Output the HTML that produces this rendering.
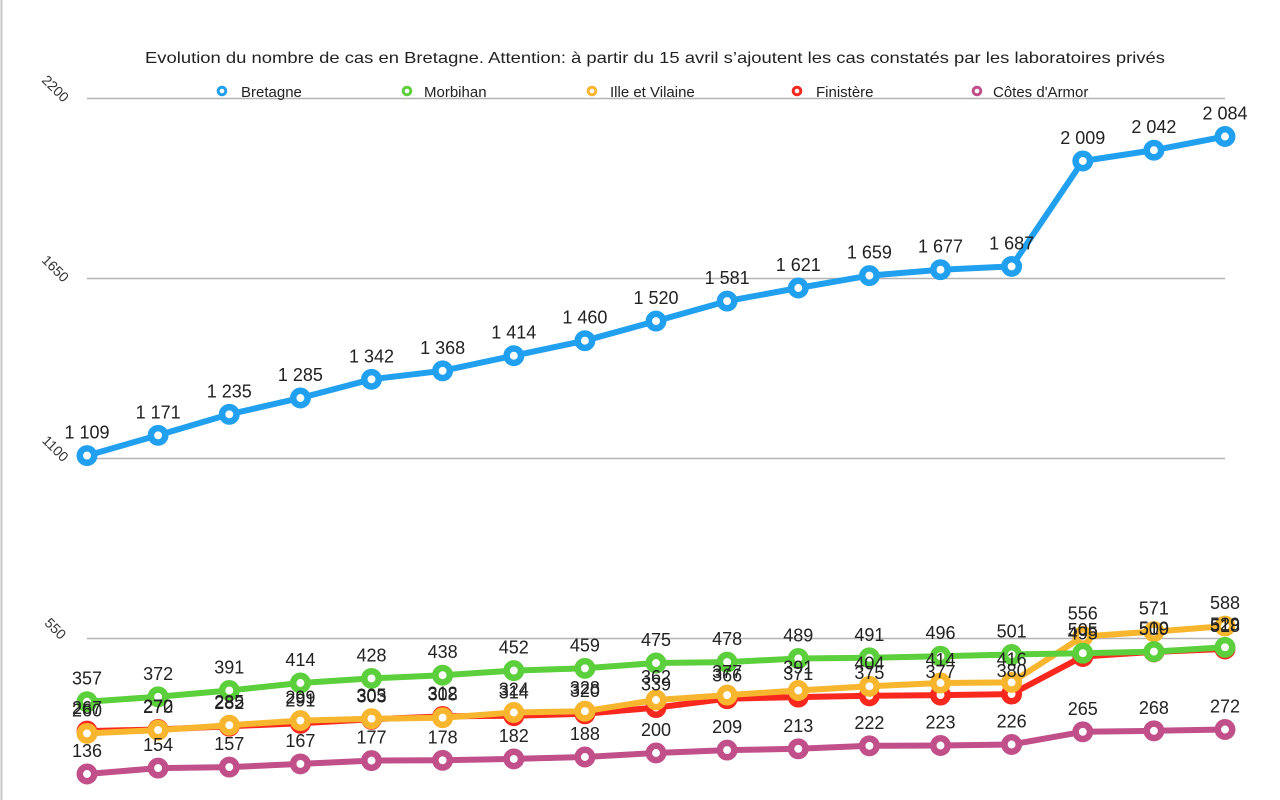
<!DOCTYPE html>
<html><head><meta charset="utf-8"><style>
html,body{margin:0;padding:0;background:#fff;}
svg{display:block;font-family:"Liberation Sans",Arial,sans-serif;}
.lbl{font-size:18px;fill:#222;text-anchor:middle;}
.ax{font-size:14px;fill:#333;text-anchor:middle;}
.lg{font-size:15px;fill:#222;}
.mk circle{r:7.2px;}
</style></head><body>
<svg width="1280" height="800" viewBox="0 0 1280 800" xmlns="http://www.w3.org/2000/svg">
<rect width="1280" height="800" fill="#fff"/>
<line x1="1.5" y1="0" x2="1.5" y2="800" stroke="#c8c8c8" stroke-width="2"/>
<text x="655" y="63" font-size="16" fill="#222" text-anchor="middle" textLength="1020" lengthAdjust="spacingAndGlyphs">Evolution du nombre de cas en Bretagne. Attention: à partir du 15 avril s’ajoutent les cas constatés par les laboratoires privés</text>

<!-- grid -->
<g stroke="#b4b4b4" stroke-width="1.5">
<line x1="87" y1="98.5" x2="1225" y2="98.5"/>
<line x1="87" y1="278.5" x2="1225" y2="278.5"/>
<line x1="87" y1="458.5" x2="1225" y2="458.5"/>
<line x1="87" y1="638.5" x2="1225" y2="638.5"/>
</g>
<text class="ax" transform="translate(52,92) rotate(45)">2200</text>
<text class="ax" transform="translate(52,272) rotate(45)">1650</text>
<text class="ax" transform="translate(52,452) rotate(45)">1100</text>
<text class="ax" transform="translate(52,632) rotate(45)">550</text>

<!-- legend -->
<g stroke-width="3" fill="#fff">
<circle cx="222" cy="91" r="3.8" stroke="#22a0f0"/>
<circle cx="407" cy="91" r="3.8" stroke="#5ccf3c"/>
<circle cx="592" cy="91" r="3.8" stroke="#f8b52e"/>
<circle cx="797" cy="91" r="3.8" stroke="#f8281e"/>
<circle cx="977" cy="91" r="3.8" stroke="#c04f8a"/>
</g>
<text class="lg" x="241" y="97">Bretagne</text>
<text class="lg" x="424" y="97">Morbihan</text>
<text class="lg" x="610" y="97">Ille et Vilaine</text>
<text class="lg" x="816" y="97">Finistère</text>
<text class="lg" x="993" y="97">Côtes d'Armor</text>

<!-- Côtes d'Armor -->
<g stroke="#c04f8a" fill="#fff">
<polyline fill="none" stroke-width="6" stroke-linejoin="round" points="87,774 158.1,768.1 229.3,767.1 300.4,763.9 371.5,760.6 442.6,760.3 513.8,758.9 584.9,757 656,753 727.1,750.1 798.3,748.8 869.4,745.8 940.5,745.5 1011.6,744.5 1082.8,731.8 1153.9,730.8 1225,729.5"/>
<g stroke-width="6.5">
<circle cx="87" cy="774" r="7.2"/><circle cx="158.1" cy="768.1" r="7.2"/><circle cx="229.3" cy="767.1" r="7.2"/><circle cx="300.4" cy="763.9" r="7.2"/><circle cx="371.5" cy="760.6" r="7.2"/><circle cx="442.6" cy="760.3" r="7.2"/><circle cx="513.8" cy="758.9" r="7.2"/><circle cx="584.9" cy="757" r="7.2"/><circle cx="656" cy="753" r="7.2"/><circle cx="727.1" cy="750.1" r="7.2"/><circle cx="798.3" cy="748.8" r="7.2"/><circle cx="869.4" cy="745.8" r="7.2"/><circle cx="940.5" cy="745.5" r="7.2"/><circle cx="1011.6" cy="744.5" r="7.2"/><circle cx="1082.8" cy="731.8" r="7.2"/><circle cx="1153.9" cy="730.8" r="7.2"/><circle cx="1225" cy="729.5" r="7.2"/>
</g></g>

<!-- Finistère -->
<g stroke="#f8281e" fill="#fff">
<polyline fill="none" stroke-width="6" stroke-linejoin="round" points="87,731.1 158.1,729.5 229.3,726.2 300.4,723.3 371.5,719.3 442.6,716.4 513.8,715.7 584.9,713.8 656,707.6 727.1,698.7 798.3,697.1 869.4,695.8 940.5,695.1 1011.6,694.1 1082.8,656.5 1153.9,651.9 1225,649"/>
<g stroke-width="6.5">
<circle cx="87" cy="731.1" r="7.2"/><circle cx="158.1" cy="729.5" r="7.2"/><circle cx="229.3" cy="726.2" r="7.2"/><circle cx="300.4" cy="723.3" r="7.2"/><circle cx="371.5" cy="719.3" r="7.2"/><circle cx="442.6" cy="716.4" r="7.2"/><circle cx="513.8" cy="715.7" r="7.2"/><circle cx="584.9" cy="713.8" r="7.2"/><circle cx="656" cy="707.6" r="7.2"/><circle cx="727.1" cy="698.7" r="7.2"/><circle cx="798.3" cy="697.1" r="7.2"/><circle cx="869.4" cy="695.8" r="7.2"/><circle cx="940.5" cy="695.1" r="7.2"/><circle cx="1011.6" cy="694.1" r="7.2"/><circle cx="1082.8" cy="656.5" r="7.2"/><circle cx="1153.9" cy="651.9" r="7.2"/><circle cx="1225" cy="649" r="7.2"/>
</g></g>

<!-- Ille et Vilaine -->
<g stroke="#f8b52e" fill="#fff">
<polyline fill="none" stroke-width="6" stroke-linejoin="round" points="87,733.4 158.1,730.1 229.3,725.2 300.4,720.6 371.5,718.7 442.6,717.7 513.8,712.5 584.9,711.2 656,700 727.1,695.1 798.3,690.5 869.4,686.3 940.5,683 1011.6,682.4 1082.8,636.5 1153.9,631.6 1225,626.1"/>
<g stroke-width="6.5">
<circle cx="87" cy="733.4" r="7.2"/><circle cx="158.1" cy="730.1" r="7.2"/><circle cx="229.3" cy="725.2" r="7.2"/><circle cx="300.4" cy="720.6" r="7.2"/><circle cx="371.5" cy="718.7" r="7.2"/><circle cx="442.6" cy="717.7" r="7.2"/><circle cx="513.8" cy="712.5" r="7.2"/><circle cx="584.9" cy="711.2" r="7.2"/><circle cx="656" cy="700" r="7.2"/><circle cx="727.1" cy="695.1" r="7.2"/><circle cx="798.3" cy="690.5" r="7.2"/><circle cx="869.4" cy="686.3" r="7.2"/><circle cx="940.5" cy="683" r="7.2"/><circle cx="1011.6" cy="682.4" r="7.2"/><circle cx="1082.8" cy="636.5" r="7.2"/><circle cx="1153.9" cy="631.6" r="7.2"/><circle cx="1225" cy="626.1" r="7.2"/>
</g></g>

<!-- Morbihan -->
<g stroke="#5ccf3c" fill="#fff">
<polyline fill="none" stroke-width="6" stroke-linejoin="round" points="87,701.7 158.1,696.8 229.3,690.5 300.4,683 371.5,678.4 442.6,675.2 513.8,670.6 584.9,668.3 656,663 727.1,662.1 798.3,658.5 869.4,657.8 940.5,656.2 1011.6,654.5 1082.8,653.2 1153.9,651.6 1225,647.3"/>
<g stroke-width="6.5">
<circle cx="87" cy="701.7" r="7.2"/><circle cx="158.1" cy="696.8" r="7.2"/><circle cx="229.3" cy="690.5" r="7.2"/><circle cx="300.4" cy="683" r="7.2"/><circle cx="371.5" cy="678.4" r="7.2"/><circle cx="442.6" cy="675.2" r="7.2"/><circle cx="513.8" cy="670.6" r="7.2"/><circle cx="584.9" cy="668.3" r="7.2"/><circle cx="656" cy="663" r="7.2"/><circle cx="727.1" cy="662.1" r="7.2"/><circle cx="798.3" cy="658.5" r="7.2"/><circle cx="869.4" cy="657.8" r="7.2"/><circle cx="940.5" cy="656.2" r="7.2"/><circle cx="1011.6" cy="654.5" r="7.2"/><circle cx="1082.8" cy="653.2" r="7.2"/><circle cx="1153.9" cy="651.6" r="7.2"/><circle cx="1225" cy="647.3" r="7.2"/>
</g></g>

<!-- Bretagne -->
<g stroke="#22a0f0" fill="#fff">
<polyline fill="none" stroke-width="6" stroke-linejoin="round" points="87,455.6 158.1,435.3 229.3,414.3 300.4,398 371.5,379.3 442.6,370.8 513.8,355.7 584.9,340.7 656,321.1 727.1,301.1 798.3,288 869.4,275.6 940.5,269.7 1011.6,266.4 1082.8,161 1153.9,150.2 1225,136.5"/>
<g stroke-width="6.5">
<circle cx="87" cy="455.6" r="7.2"/><circle cx="158.1" cy="435.3" r="7.2"/><circle cx="229.3" cy="414.3" r="7.2"/><circle cx="300.4" cy="398" r="7.2"/><circle cx="371.5" cy="379.3" r="7.2"/><circle cx="442.6" cy="370.8" r="7.2"/><circle cx="513.8" cy="355.7" r="7.2"/><circle cx="584.9" cy="340.7" r="7.2"/><circle cx="656" cy="321.1" r="7.2"/><circle cx="727.1" cy="301.1" r="7.2"/><circle cx="798.3" cy="288" r="7.2"/><circle cx="869.4" cy="275.6" r="7.2"/><circle cx="940.5" cy="269.7" r="7.2"/><circle cx="1011.6" cy="266.4" r="7.2"/><circle cx="1082.8" cy="161" r="7.2"/><circle cx="1153.9" cy="150.2" r="7.2"/><circle cx="1225" cy="136.5" r="7.2"/>
</g></g>

<!-- labels Bretagne -->
<g>
<text class="lbl" x="87" y="438.6">1 109</text>
<text class="lbl" x="158.1" y="418.3">1 171</text>
<text class="lbl" x="229.3" y="397.3">1 235</text>
<text class="lbl" x="300.4" y="381">1 285</text>
<text class="lbl" x="371.5" y="362.3">1 342</text>
<text class="lbl" x="442.6" y="353.8">1 368</text>
<text class="lbl" x="513.8" y="338.7">1 414</text>
<text class="lbl" x="584.9" y="323.7">1 460</text>
<text class="lbl" x="656" y="304.1">1 520</text>
<text class="lbl" x="727.1" y="284.1">1 581</text>
<text class="lbl" x="798.3" y="271">1 621</text>
<text class="lbl" x="869.4" y="258.6">1 659</text>
<text class="lbl" x="940.5" y="252.7">1 677</text>
<text class="lbl" x="1011.6" y="249.4">1 687</text>
<text class="lbl" x="1082.8" y="144">2 009</text>
<text class="lbl" x="1153.9" y="133.2">2 042</text>
<text class="lbl" x="1225" y="119.5">2 084</text>
</g>
<!-- labels Morbihan -->
<g>
<text class="lbl" x="87" y="684.7">357</text>
<text class="lbl" x="158.1" y="679.8">372</text>
<text class="lbl" x="229.3" y="673.5">391</text>
<text class="lbl" x="300.4" y="666">414</text>
<text class="lbl" x="371.5" y="661.4">428</text>
<text class="lbl" x="442.6" y="658.2">438</text>
<text class="lbl" x="513.8" y="653.6">452</text>
<text class="lbl" x="584.9" y="651.3">459</text>
<text class="lbl" x="656" y="646">475</text>
<text class="lbl" x="727.1" y="645.1">478</text>
<text class="lbl" x="798.3" y="641.5">489</text>
<text class="lbl" x="869.4" y="640.8">491</text>
<text class="lbl" x="940.5" y="639.2">496</text>
<text class="lbl" x="1011.6" y="637.5">501</text>
<text class="lbl" x="1082.8" y="636.2">505</text>
<text class="lbl" x="1153.9" y="634.6">510</text>
<text class="lbl" x="1225" y="630.3">529</text>
</g>
<!-- labels Ille et Vilaine -->
<g>
<text class="lbl" x="87" y="716.4">260</text>
<text class="lbl" x="158.1" y="713.1">270</text>
<text class="lbl" x="229.3" y="708.2">285</text>
<text class="lbl" x="300.4" y="703.6">299</text>
<text class="lbl" x="371.5" y="701.7">305</text>
<text class="lbl" x="442.6" y="700.7">308</text>
<text class="lbl" x="513.8" y="695.5">324</text>
<text class="lbl" x="584.9" y="694.2">328</text>
<text class="lbl" x="656" y="683">362</text>
<text class="lbl" x="727.1" y="678.1">377</text>
<text class="lbl" x="798.3" y="673.5">391</text>
<text class="lbl" x="869.4" y="669.3">404</text>
<text class="lbl" x="940.5" y="666">414</text>
<text class="lbl" x="1011.6" y="665.4">416</text>
<text class="lbl" x="1082.8" y="619.5">556</text>
<text class="lbl" x="1153.9" y="614.6">571</text>
<text class="lbl" x="1225" y="609.1">588</text>
</g>
<!-- labels Finistère -->
<g>
<text class="lbl" x="87" y="714.1">267</text>
<text class="lbl" x="158.1" y="712.5">272</text>
<text class="lbl" x="229.3" y="709.2">282</text>
<text class="lbl" x="300.4" y="706.3">291</text>
<text class="lbl" x="371.5" y="702.3">303</text>
<text class="lbl" x="442.6" y="699.4">312</text>
<text class="lbl" x="513.8" y="698.7">314</text>
<text class="lbl" x="584.9" y="696.8">320</text>
<text class="lbl" x="656" y="690.6">339</text>
<text class="lbl" x="727.1" y="681.7">366</text>
<text class="lbl" x="798.3" y="680.1">371</text>
<text class="lbl" x="869.4" y="678.8">375</text>
<text class="lbl" x="940.5" y="678.1">377</text>
<text class="lbl" x="1011.6" y="677.1">380</text>
<text class="lbl" x="1082.8" y="639.5">495</text>
<text class="lbl" x="1153.9" y="634.9">509</text>
<text class="lbl" x="1225" y="632">518</text>
</g>
<!-- labels Côtes d'Armor -->
<g>
<text class="lbl" x="87" y="757">136</text>
<text class="lbl" x="158.1" y="751.1">154</text>
<text class="lbl" x="229.3" y="750.1">157</text>
<text class="lbl" x="300.4" y="746.9">167</text>
<text class="lbl" x="371.5" y="743.6">177</text>
<text class="lbl" x="442.6" y="743.3">178</text>
<text class="lbl" x="513.8" y="741.9">182</text>
<text class="lbl" x="584.9" y="740">188</text>
<text class="lbl" x="656" y="736">200</text>
<text class="lbl" x="727.1" y="733.1">209</text>
<text class="lbl" x="798.3" y="731.8">213</text>
<text class="lbl" x="869.4" y="728.8">222</text>
<text class="lbl" x="940.5" y="728.5">223</text>
<text class="lbl" x="1011.6" y="727.5">226</text>
<text class="lbl" x="1082.8" y="714.8">265</text>
<text class="lbl" x="1153.9" y="713.8">268</text>
<text class="lbl" x="1225" y="712.5">272</text>
</g>
</svg>
</body></html>
